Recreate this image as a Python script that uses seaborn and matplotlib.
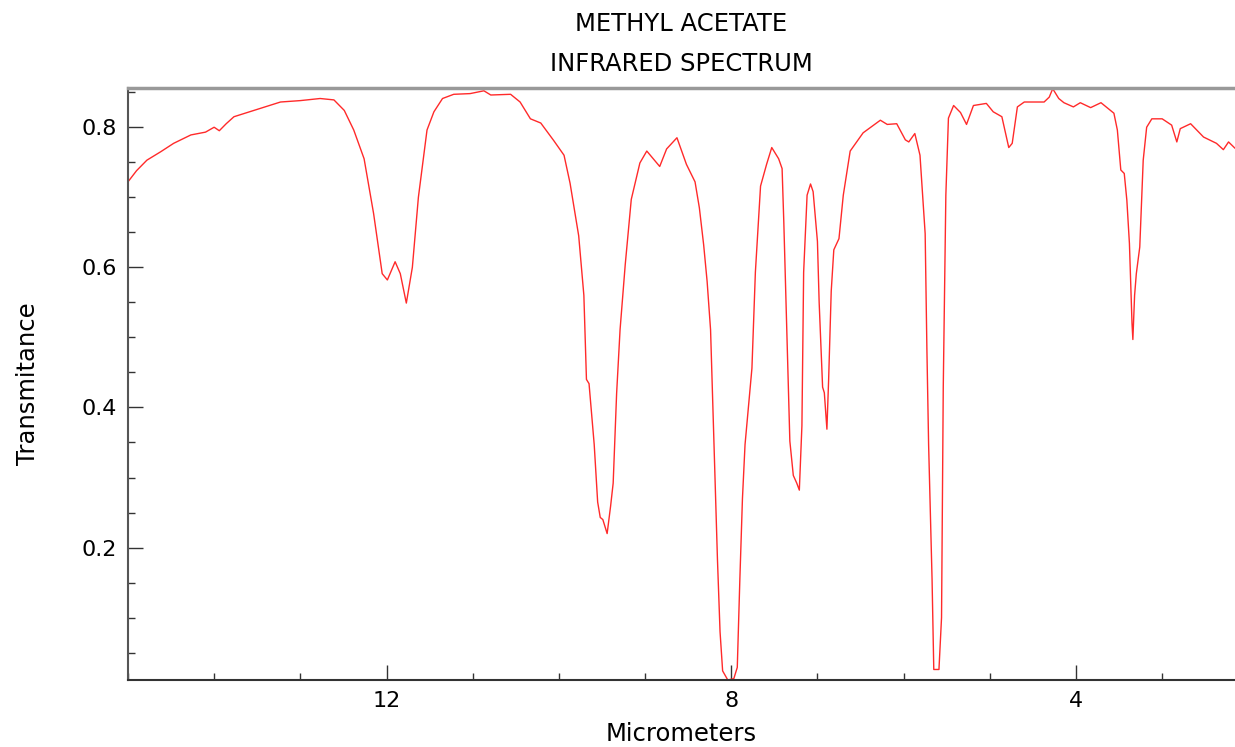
import matplotlib
matplotlib.use("Agg")
import matplotlib.pyplot as plt
import seaborn as sns
import pandas as pd
from matplotlib.ticker import MultipleLocator

# wavelength (micrometers) and transmittance
micrometers = [
    15.00, 14.90, 14.78, 14.62, 14.47, 14.27, 14.10, 14.00, 13.94, 13.86,
    13.77, 13.54, 13.23, 13.00, 12.77, 12.61, 12.49, 12.38, 12.26, 12.15,
    12.05, 11.99, 11.90, 11.84, 11.77, 11.70, 11.63, 11.53, 11.45, 11.35,
    11.22, 11.03, 10.87, 10.79, 10.56, 10.45, 10.33, 10.21, 10.06, 9.94,
    9.87, 9.77, 9.71, 9.68, 9.65, 9.59, 9.55, 9.52, 9.49, 9.44,
    9.40, 9.37, 9.33, 9.29, 9.23, 9.16, 9.06, 8.98, 8.83, 8.75,
    8.63, 8.52, 8.42, 8.37, 8.32, 8.28, 8.24, 8.20, 8.16, 8.13,
    8.10, 8.04, 7.97, 7.93, 7.90, 7.87, 7.84, 7.80, 7.76, 7.72,
    7.66, 7.59, 7.53, 7.45, 7.41, 7.39, 7.35, 7.32, 7.28, 7.24,
    7.21, 7.18, 7.16, 7.12, 7.08, 7.05, 7.00, 6.98, 6.94, 6.92,
    6.89, 6.87, 6.84, 6.81, 6.75, 6.70, 6.62, 6.47, 6.27, 6.19,
    6.08, 5.98, 5.94, 5.87, 5.81, 5.75, 5.73, 5.71, 5.67, 5.65,
    5.59, 5.56, 5.54, 5.51, 5.48, 5.42, 5.34, 5.27, 5.19, 5.04,
    4.96, 4.86, 4.78, 4.74, 4.68, 4.60, 4.37, 4.31, 4.27, 4.20,
    4.14, 4.03, 3.95, 3.83, 3.71, 3.60, 3.56, 3.52, 3.48, 3.44,
    3.41, 3.38, 3.35, 3.34, 3.32, 3.30, 3.26, 3.22, 3.18, 3.12,
    3.00, 2.89, 2.83, 2.79, 2.67, 2.52, 2.37, 2.29, 2.23, 2.155,
]
transmittance = [
    0.722, 0.738, 0.753, 0.765, 0.777, 0.789, 0.793, 0.800, 0.795, 0.805,
    0.815, 0.824, 0.836, 0.838, 0.841, 0.839, 0.824, 0.796, 0.755, 0.677,
    0.591, 0.582, 0.608, 0.591, 0.549, 0.600, 0.700, 0.796, 0.822, 0.841,
    0.847, 0.848, 0.852, 0.846, 0.847, 0.836, 0.812, 0.806, 0.781, 0.760,
    0.720, 0.645, 0.560, 0.440, 0.434, 0.347, 0.265, 0.243, 0.240, 0.220,
    0.259, 0.292, 0.420, 0.511, 0.604, 0.697, 0.749, 0.766, 0.744, 0.769,
    0.785, 0.747, 0.722, 0.685, 0.632, 0.580, 0.511, 0.347, 0.183, 0.080,
    0.024, 0.011, 0.013, 0.029, 0.155, 0.270, 0.347, 0.402, 0.456, 0.593,
    0.716, 0.747, 0.771, 0.755, 0.741, 0.664, 0.484, 0.352, 0.303, 0.292,
    0.282, 0.374, 0.593, 0.703, 0.719, 0.708, 0.637, 0.550, 0.429, 0.421,
    0.369, 0.440, 0.566, 0.625, 0.641, 0.703, 0.766, 0.792, 0.810, 0.804,
    0.805, 0.782, 0.779, 0.791, 0.760, 0.648, 0.484, 0.347, 0.155, 0.026,
    0.026, 0.100, 0.429, 0.703, 0.813, 0.831, 0.821, 0.804, 0.831, 0.834,
    0.822, 0.815, 0.771, 0.777, 0.829, 0.836, 0.836, 0.843, 0.855, 0.841,
    0.835, 0.829, 0.835, 0.828, 0.835, 0.824, 0.820, 0.796, 0.739, 0.734,
    0.696, 0.634, 0.520, 0.497, 0.560, 0.591, 0.629, 0.753, 0.800, 0.812,
    0.812, 0.803, 0.779, 0.798, 0.805, 0.786, 0.777, 0.768, 0.779, 0.770,
]

df = pd.DataFrame({"Micrometers": micrometers, "Transmitance": transmittance})

sns.set_style("white")
plt.rcParams['font.family'] = ['DejaVu Sans']
plt.rcParams['text.color'] = 'black'
plt.rcParams['axes.labelcolor'] = 'black'
plt.rcParams['xtick.color'] = '#333333'
plt.rcParams['ytick.color'] = '#333333'

fig = plt.figure(figsize=(12.35, 7.47), dpi=100)
ax = fig.add_axes([0.1036, 0.0897, 0.8964, 0.7925])

sns.lineplot(data=df, x="Micrometers", y="Transmitance", sort=False,
             estimator=None, color="#ff2a2a", linewidth=1.0, ax=ax)

ax.set_xlim(15.0, 2.155)
ax.set_ylim(0.011, 0.856)

ax.xaxis.set_major_locator(MultipleLocator(4))
ax.xaxis.set_minor_locator(MultipleLocator(1))
ax.set_yticks([0.2, 0.4, 0.6, 0.8])
ax.yaxis.set_minor_locator(MultipleLocator(0.05))

ax.tick_params(axis="both", which="both", bottom=True, left=True,
               top=False, right=False)
ax.tick_params(axis="both", which="major", direction="in", length=11,
               width=1.0, labelsize=16, labelcolor="black", pad=8)
ax.tick_params(axis="both", which="minor", direction="in", length=5,
               width=1.0)

ax.spines["right"].set_visible(False)
ax.spines["top"].set_color("#999999")
ax.spines["top"].set_linewidth(2.5)
ax.spines["left"].set_color("#555555")
ax.spines["left"].set_linewidth(1.5)
ax.spines["bottom"].set_color("#333333")
ax.spines["bottom"].set_linewidth(1.5)

ax.set_xlabel("Micrometers", fontsize=17.5, labelpad=8)
ax.set_ylabel("Transmitance", fontsize=17.5, labelpad=30)
ax.set_title("METHYL ACETATE\nINFRARED SPECTRUM", fontsize=17.5,
             linespacing=1.85, pad=12)

fig.savefig("out.png", dpi=100)
